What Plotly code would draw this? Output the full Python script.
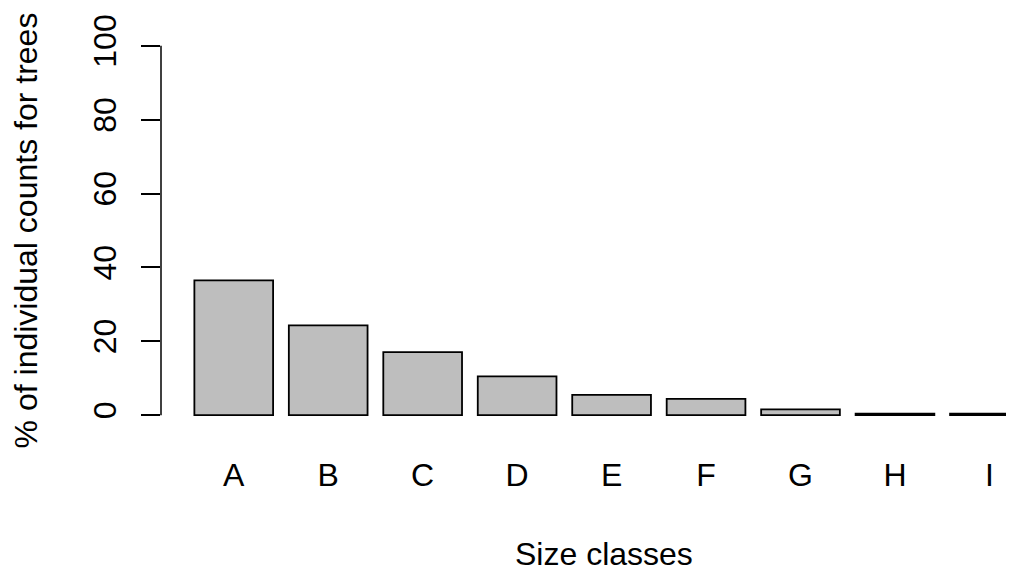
import plotly.graph_objects as go

categories = ["A", "B", "C", "D", "E", "F", "G", "H", "I"]
values = [36.5, 24.3, 17.1, 10.5, 5.5, 4.4, 1.6, 0.4, 0.4]
y_ticks = [0, 20, 40, 60, 80, 100]
x_title = "Size classes"
y_title = "% of individual counts for trees"

FONT = "Liberation Sans, Arial, sans-serif"

fig = go.Figure(
    go.Bar(
        x=categories,
        y=values,
        marker=dict(color="#BEBEBE", line=dict(color="#000000", width=1.8)),
    )
)

fig.update_layout(
    width=1014,
    height=573,
    margin=dict(l=153, r=8, t=22.9, b=150.5, autoexpand=False),
    paper_bgcolor="white",
    plot_bgcolor="white",
    bargap=1 / 6,
    showlegend=False,
    font=dict(family=FONT, size=32, color="#000000"),
)

fig.update_xaxes(
    type="category",
    range=[-0.77, 8.26],
    showline=False,
    showgrid=False,
    zeroline=False,
    ticks="",
    tickfont=dict(family=FONT, size=32, color="#000000"),
    ticklabelstandoff=23,
    automargin=False,
)

# x-axis title centred on R's (wider) plot region, as in the reference
fig.add_annotation(
    text=x_title, xref="paper", yref="paper",
    x=0.519, y=-0.3116, xanchor="center", yanchor="middle",
    showarrow=False, font=dict(family=FONT, size=32, color="#000000"),
)

fig.update_yaxes(
    range=[-4, 104],
    tickvals=y_ticks,
    ticktext=[str(v) for v in y_ticks],
    tickangle=-90,
    ticks="outside",
    ticklen=19,
    tickwidth=1.5,
    tickcolor="#000000",
    showline=False,
    showgrid=False,
    zeroline=False,
    tickfont=dict(family=FONT, size=32, color="#000000"),
    ticklabelstandoff=12,
    title=dict(text=y_title, font=dict(family=FONT, size=32, color="#000000"), standoff=49),
    automargin=False,
)

fig.add_shape(
    type="line", xref="paper", yref="y",
    x0=0, x1=0, y0=y_ticks[0], y1=y_ticks[-1],
    line=dict(color="#000000", width=1.5),
)

fig.write_html("out.html")
